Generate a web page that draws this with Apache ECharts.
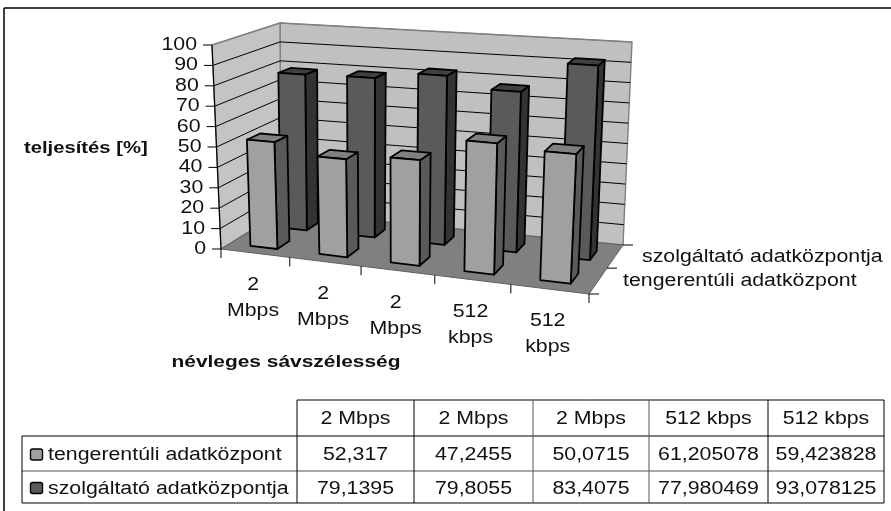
<!DOCTYPE html>
<html>
<head>
<meta charset="utf-8">
<style>
html,body{margin:0;padding:0;background:#fff}
#main{width:891px;height:511px}
</style>
<script src="https://cdn.jsdelivr.net/npm/echarts@6/dist/echarts.min.js"></script>
</head>
<body>
<div id="main"></div>
<script>
// adatok
var categories=["2 Mbps","2 Mbps","2 Mbps","512 kbps","512 kbps"];
var tenger=[52.317,47.2455,50.0715,61.205078,59.423828];
var szolg=[79.1395,79.8055,83.4075,77.980469,93.078125];
var yTicks=[0,10,20,30,40,50,60,70,80,90,100];
var nameTenger="tengerentúli adatközpont";
var nameSzolg="szolgáltató adatközpontja";

var FONT="Liberation Sans, Arial, sans-serif";
var LABEL="18px "+FONT;
var BOLD="bold 17px "+FONT;
var STRETCH=1.185; // az eredeti kép vízszintesen nyújtott

// a 3D doboz sarkai a képen: elöl-bal, elöl-jobb, hátul-jobb, hátul-bal
var floorQuad=[[221,249],[589,294],[623,245],[281,212]];
var topQuad=[[212,45],[600,72],[632,42],[280,23]];

// egységnégyzet -> négyszög (perspektíva)
function homography(q){
  var x0=q[0][0],y0=q[0][1],x1=q[1][0],y1=q[1][1],x2=q[2][0],y2=q[2][1],x3=q[3][0],y3=q[3][1];
  var dx1=x1-x2,dx2=x3-x2,sx=x0-x1+x2-x3;
  var dy1=y1-y2,dy2=y3-y2,sy=y0-y1+y2-y3;
  var den=dx1*dy2-dx2*dy1;
  var g=(sx*dy2-dx2*sy)/den,h=(dx1*sy-sx*dy1)/den;
  var a=x1-x0+g*x1,b=x3-x0+h*x3,d=y1-y0+g*y1,e=y3-y0+h*y3;
  return function(s,t){
    var w=g*s+h*t+1;
    return [(a*s+b*t+x0)/w,(d*s+e*t+y0)/w];
  };
}
var floorH=homography(floorQuad),topH=homography(topQuad);
// s: kategória irány, t: mélység, v: magasság (mind 0..1)
function project(s,t,v){
  var s2=s+0.12*s*(1-s); // a perspektíva enyhítése
  var a=floorH(s2,t),b=topH(s2,t);
  return [a[0]+(b[0]-a[0])*v,a[1]+(b[1]-a[1])*v];
}
function poly(points,fill,stroke,lw){
  return {type:"polygon",shape:{points:points},style:{fill:fill,stroke:stroke,lineWidth:lw,lineJoin:"round"}};
}
function line(p,q,color,lw){
  return {type:"line",shape:{x1:p[0],y1:p[1],x2:q[0],y2:q[1]},style:{stroke:color,lineWidth:lw,fill:null}};
}
function text(str,x,y,font,align,sx){
  return {type:"text",x:x,y:y+1,scaleX:sx||STRETCH,
    style:{text:str,x:0,y:0,font:font,fill:"#111",align:align||"center",verticalAlign:"middle",lineHeight:26}};
}
// tengely érték -> s,v a grid alapján
function toBox(api,params,cat,val){
  var r=params.coordSys,c=api.coord([cat,val]);
  return {s:(c[0]-r.x)/r.width,v:(r.y+r.height-c[1])/r.height,band:api.size([1,0])[0]/r.width};
}

// oszlop kirajzolása a mélységi sávban
function barItem(t0,t1,ds,front,side,top){
  return function(params,api){
    var b=toBox(api,params,api.value(0),api.value(1));
    var hw=b.band*0.395/2,s0=b.s-hw+ds,s1=b.s+hw+ds,v=b.v,lw=1.8,k="#000";
    return {type:"group",children:[
      poly([project(s1,t0,0),project(s1,t1,0),project(s1,t1,v),project(s1,t0,v)],side,k,lw),
      poly([project(s0,t0,v),project(s1,t0,v),project(s1,t1,v),project(s0,t1,v)],top,k,lw),
      poly([project(s0,t0,0),project(s1,t0,0),project(s1,t0,v),project(s0,t0,v)],front,k,lw)
    ]};
  };
}

// falak, padló, rácsvonalak, osztások
function frameItem(params,api){
  var val=api.value(1),ch=[],b=toBox(api,params,0,val),v=b.v,i;
  if(params.dataIndex===0){
    ch.push(poly([project(0,1,0),project(1,1,0),project(1,1,1),project(0,1,1)],"#c0c0c0","#808080",1.4));
    ch.push(poly([project(0,0,0),project(0,1,0),project(0,1,1),project(0,0,1)],"#c4c4c4","#808080",1.4));
    ch.push(poly([project(0,0,0),project(1,0,0),project(1,1,0),project(0,1,0)],"#808080","#606060",1));
    ch.push(line(project(0,0,0),project(0,0,1),"#000",1.2));
    // x osztások és feliratok
    for(i=0;i<=categories.length;i++){
      var p=project(i/categories.length,0,0);
      ch.push(line(p,[p[0],p[1]+9],"#000",1));
    }
    categories.forEach(function(c,j){
      var m=project((j+0.5)/categories.length,0,0);
      ch.push(text(c.replace(" ","\n"),m[0]-2,m[1]+44,LABEL));
    });
    // mélységi osztások
    [0,0.5,1].forEach(function(t){
      var p=project(1,t,0);
      ch.push(line(p,[p[0]+10,p[1]],"#000",1));
    });
  }
  var color=val===100?"#808080":"#000";
  if(val>0){
    ch.push(line(project(0,0,v),project(0,1,v),color,1));
    ch.push(line(project(0,1,v),project(1,1,v),color,1));
  }
  var a=project(0,0,v);
  ch.push(line([a[0]-9,a[1]],a,"#000",1));
  ch.push(text(String(val),a[0]-15,a[1]-1,LABEL,"right"));
  return {type:"group",children:ch};
}

// táblázat (grafikus elemekből)
var colX=[297,414,533,649,768,884];
var rowY=[400,436,471,503];
var tableX=22;
function tableGraphic(){
  var g=[];
  function seg(x1,y1,x2,y2,c,lw){
    g.push({type:"line",shape:{x1:x1,y1:y1,x2:x2,y2:y2},style:{stroke:c||"#000",lineWidth:lw||1}});
  }
  function label(str,x,y,font,align,sx){
    g.push(text(str,x,y,font||LABEL,align,sx));
  }
  // külső keret: csak fent és bal oldalt
  seg(4,8,891,8,"#000",1.5);
  seg(4,8,4,511,"#000",1.5);
  seg(colX[0],rowY[0],colX[5],rowY[0]);
  seg(tableX,rowY[1],colX[5],rowY[1]);
  seg(tableX,rowY[2],colX[5],rowY[2],"#555");
  seg(tableX,rowY[3],colX[5],rowY[3]);
  seg(tableX,rowY[1],tableX,rowY[3]);
  colX.forEach(function(x,i){seg(x,rowY[0],x,rowY[3],(i==2||i==3)?"#555":"#000");});
  categories.forEach(function(c,i){
    var cx=(colX[i]+colX[i+1])/2;
    label(c,cx,(rowY[0]+rowY[1])/2);
    label(String(tenger[i]).replace(".",","),cx,(rowY[1]+rowY[2])/2+1);
    label(String(szolg[i]).replace(".",","),cx,(rowY[2]+rowY[3])/2+1);
  });
  [[nameTenger,rowY[1],"#a0a0a0"],[nameSzolg,rowY[2],"#5a5a5a"]].forEach(function(r,i){
    var my=(r[1]+rowY[i+2])/2+1;
    g.push({type:"rect",shape:{x:tableX+8.5,y:my-5.5,width:12,height:11,r:2},style:{fill:r[2],stroke:"#000",lineWidth:1.4}});
    label(r[0],tableX+26,my,LABEL,"left");
  });
  // tengelycímek
  label("teljesítés [%]",24,147,BOLD,"left",1.19);
  label("névleges sávszélesség",286,361,BOLD,"center",1.23);
  label(nameSzolg,642,256,LABEL,"left");
  label(nameTenger,623,280,LABEL,"left");
  return g;
}

function pairs(arr){return arr.map(function(v,i){return [i,v];});}

var chart=echarts.init(document.getElementById("main"),null,{renderer:"canvas"});
chart.setOption({
  animation:false,
  backgroundColor:"#fff",
  grid:{left:0,right:0,top:0,bottom:0},
  xAxis:{type:"category",data:categories.map(function(c,i){return i;}),show:false},
  yAxis:{type:"value",min:0,max:100,interval:10,show:false},
  graphic:tableGraphic(),
  series:[
    {type:"custom",name:"keret",renderItem:frameItem,data:yTicks.map(function(v){return [0,v];}),z:1,clip:false},
    {type:"custom",name:nameSzolg,renderItem:barItem(0.62,0.82,0.004,"#5a5a5a","#333333","#404040"),data:pairs(szolg),z:2,clip:false},
    {type:"custom",name:nameTenger,renderItem:barItem(0.14,0.34,0,"#a0a0a0","#5a5a5a","#808080"),data:pairs(tenger),z:3,clip:false}
  ]
});
</script>
</body>
</html>
